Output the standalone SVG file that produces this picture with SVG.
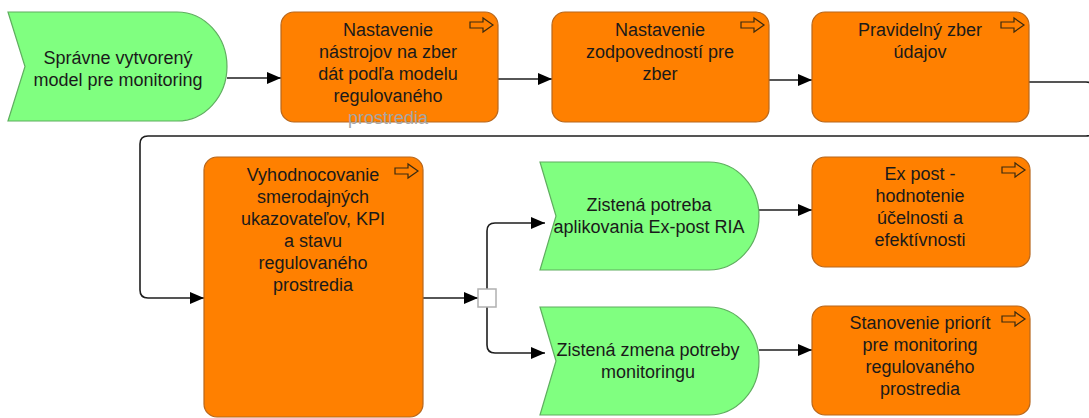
<svg xmlns="http://www.w3.org/2000/svg" width="1089" height="418" viewBox="0 0 1089 418">
<defs>
<style>
.box{fill:#FF8000;stroke:#b8671c;stroke-width:1.2}
.ev{fill:#80FF80;stroke:#5fae5f;stroke-width:1.2}
.t{font-family:"Liberation Sans",Arial,sans-serif;font-size:18px;fill:#1a1a1a;text-anchor:middle}
.ov{fill:#a6a6a6}
.c{fill:none;stroke:#1e1e1e;stroke-width:1.6;marker-end:url(#ah)}
.ic{fill:none;stroke:#3a2a10;stroke-width:1.2;stroke-linejoin:miter}
</style>
<marker id="ah" markerUnits="userSpaceOnUse" markerWidth="14" markerHeight="12" refX="14" refY="6" orient="auto">
<path d="M0,0 L14,6 L0,12 Z" fill="#000"/>
</marker>
<path id="icon" class="ic" d="M0,4 H13 V0 L23,7 L13,14 V10 H0 Z"/>
</defs>

<g id="connectors">
<path class="c" d="M227,78 H281"/>
<path class="c" d="M498,79 H552"/>
<path class="c" d="M769,80 H812"/>
<path class="c" d="M1029,82 H1086 Q1094,82 1094,90 V128 Q1094,136 1086,136 H148 Q140,136 140,144 V290 Q140,298 148,298 H204"/>
<path class="c" d="M423,298 H478"/>
<path class="c" d="M487,289 V231 Q487,223 495,223 H545"/>
<path class="c" d="M487,307 V345 Q487,353 495,353 H545"/>
<path class="c" d="M759,210 H812"/>
<path class="c" d="M759,350 H812"/>
</g>

<g id="junction">
<rect x="478" y="289" width="18" height="18" fill="#fff" stroke="#b0b0b0" stroke-width="1.5"/>
</g>

<g id="event1">
<path class="ev" d="M8,12 H177 A50,54.5 0 0 1 177,121 H8 L25,66.5 Z"/>
<text class="t" x="118" y="64">Správne vytvorený</text>
<text class="t" x="118" y="86">model pre monitoring</text>
</g>

<g id="box1">
<rect class="box" x="281" y="12" width="217" height="110" rx="13"/>
<use href="#icon" x="470" y="18"/>
<text class="t" x="388" y="36">Nastavenie</text>
<text class="t" x="388" y="58">nástrojov na zber</text>
<text class="t" x="388" y="80">dát podľa modelu</text>
<text class="t" x="388" y="102">regulovaného</text>
<text class="t ov" x="388" y="124">prostredia</text>
</g>

<g id="box2">
<rect class="box" x="552" y="12" width="217" height="110" rx="13"/>
<use href="#icon" x="741" y="18"/>
<text class="t" x="660" y="36">Nastavenie</text>
<text class="t" x="660" y="58">zodpovedností pre</text>
<text class="t" x="660" y="80">zber</text>
</g>

<g id="box3">
<rect class="box" x="812" y="12" width="217" height="110" rx="13"/>
<use href="#icon" x="1001" y="18"/>
<text class="t" x="920" y="36">Pravidelný zber</text>
<text class="t" x="920" y="58">údajov</text>
</g>

<g id="box4">
<rect class="box" x="204" y="157" width="219" height="260" rx="13"/>
<use href="#icon" x="395" y="164"/>
<text class="t" x="313" y="181">Vyhodnocovanie</text>
<text class="t" x="313" y="203">smerodajných</text>
<text class="t" x="313" y="225">ukazovateľov, KPI</text>
<text class="t" x="313" y="247">a stavu</text>
<text class="t" x="313" y="269">regulovaného</text>
<text class="t" x="313" y="291">prostredia</text>
</g>

<g id="event2">
<path class="ev" d="M540,162 H709 A50,54 0 0 1 709,270 H540 L556,216 Z"/>
<text class="t" x="649" y="211">Zistená potreba</text>
<text class="t" x="649" y="233">aplikovania Ex-post RIA</text>
</g>

<g id="event3">
<path class="ev" d="M540,307 H709 A50,54 0 0 1 709,415 H540 L556,361 Z"/>
<text class="t" x="648" y="356">Zistená zmena potreby</text>
<text class="t" x="648" y="378">monitoringu</text>
</g>

<g id="box5">
<rect class="box" x="812" y="157" width="218" height="110" rx="13"/>
<use href="#icon" x="1002" y="163"/>
<text class="t" x="920" y="180">Ex post -</text>
<text class="t" x="920" y="202">hodnotenie</text>
<text class="t" x="920" y="224">účelnosti a</text>
<text class="t" x="920" y="246">efektívnosti</text>
</g>

<g id="box6">
<rect class="box" x="812" y="306" width="218" height="109" rx="13"/>
<use href="#icon" x="1002" y="312"/>
<text class="t" x="920" y="329">Stanovenie priorít</text>
<text class="t" x="920" y="351">pre monitoring</text>
<text class="t" x="920" y="373">regulovaného</text>
<text class="t" x="920" y="395">prostredia</text>
</g>
</svg>
